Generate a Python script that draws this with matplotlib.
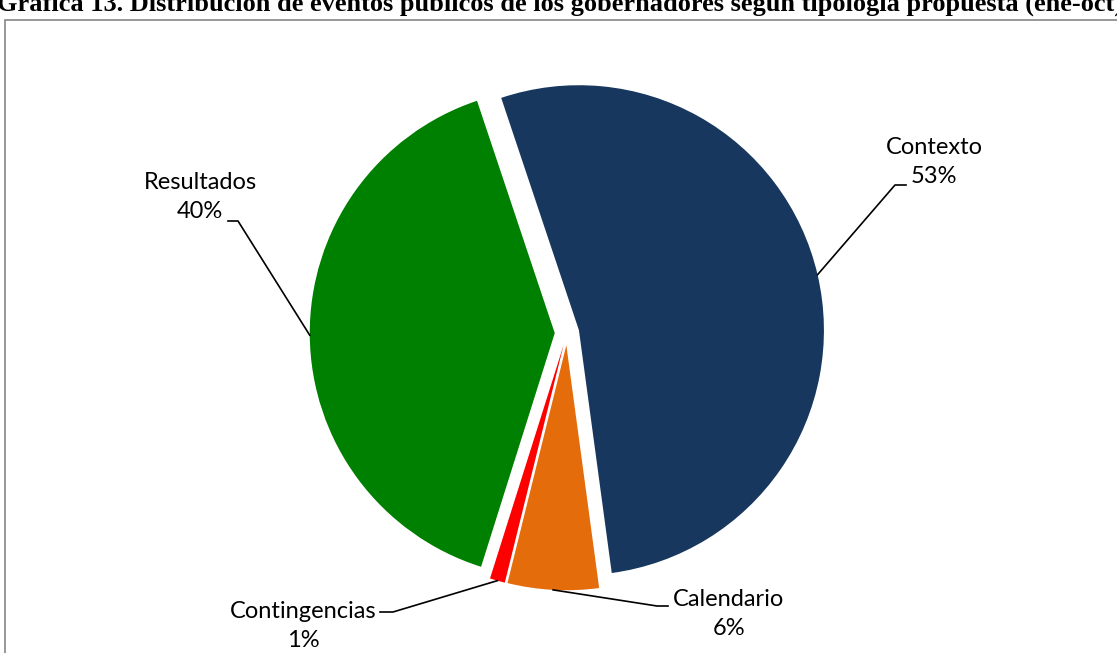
import matplotlib.pyplot as plt
from matplotlib.patches import Rectangle
import numpy as np

# Datos de la grafica
categorias = ['Contexto', 'Calendario', 'Contingencias', 'Resultados']
porcentajes = [53, 6, 1, 40]
colores = ['#17375E', '#E46C0A', '#FF0000', '#008000']

titulo = ('Gráfica 13. Distribución de eventos públicos de los gobernadores '
          'según tipología propuesta (ene-oct)')

# Posiciones (en pixeles) de las etiquetas y del quiebre de cada linea guia
pos_texto = [(934, 162), (729, 614), (303, 626), (200, 197)]
pos_quiebre = [(895, 185), (657, 606), (393, 612), (238, 221)]
pos_final = [(906, 185), (668, 606), (380, 612), (228, 221)]

W, H = 1117, 653
R = 245.0  # radio del pastel en pixeles
cx, cy = 567, 333  # centro del pastel en pixeles


def px(x, y):
    # convierte pixeles (origen arriba a la izquierda) a coordenadas de datos
    return (x - cx) / R, (cy - y) / R


fig = plt.figure(figsize=(W / 100, H / 100), dpi=100)
ax = fig.add_axes([0, 0, 1, 1])

explotar = [0.05] * len(porcentajes)
wedges, _ = ax.pie(porcentajes, colors=colores, startangle=108.5,
                   counterclock=False, explode=explotar, radius=1,
                   wedgeprops=dict(linewidth=0))

ax.set_xlim(-cx / R, (W - cx) / R)
ax.set_ylim(-(H - cy) / R, cy / R)
ax.set_aspect('auto')
ax.axis('off')

fuente = ['Lato', 'DejaVu Sans']
for w, cat, pct, e, t, q, f in zip(wedges, categorias, porcentajes, explotar,
                                   pos_texto, pos_quiebre, pos_final):
    ang = np.deg2rad((w.theta1 + w.theta2) / 2)
    x0, y0 = (1 + e) * np.cos(ang), (1 + e) * np.sin(ang)
    xq, yq = px(*q)
    xf, yf = px(*f)
    ax.plot([x0, xq, xf], [y0, yq, yf], color='black', lw=1.2)
    xt, yt = px(*t)
    ax.text(xt, yt, f'{cat}\n{pct}%', ha='center', va='center',
            fontsize=17, family=fuente, linespacing=1.5, color='black')

# Marco del area de la grafica
fig.patches.append(Rectangle((5 / W, -0.1), 1.2, 1 - 20 / H + 0.1,
                             transform=fig.transFigure, fill=False,
                             edgecolor='#868686', lw=1.2))

# Titulo (queda recortado en la parte superior)
fig.text(-3 / W, 1 - 11 / H, titulo, ha='left', va='baseline',
         fontsize=19, family='Liberation Serif', fontweight='bold')

fig.savefig('out.png', dpi=100)
